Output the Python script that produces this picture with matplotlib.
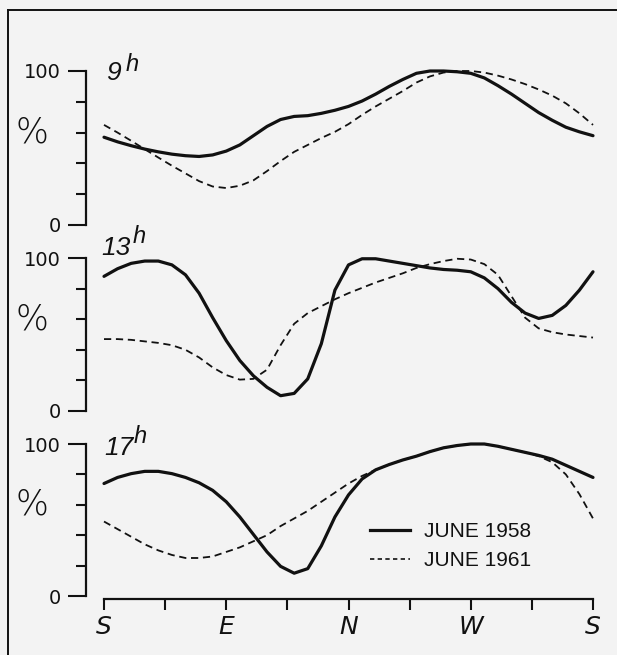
import matplotlib
matplotlib.use("Agg")
import matplotlib.pyplot as plt
from matplotlib.lines import Line2D

# ---- data (azimuth in degrees, S=0, E=90, N=180, W=270, S=360) ----
azimuth = list(range(0, 361, 10))

h9_1958 = [57, 54, 51.5, 49.3, 47.5, 46, 45, 44.5, 45.5, 48, 52, 58, 64, 68.5, 70.5, 71,
           72.5, 74.5, 77, 80.5, 85, 90, 94.5, 98.5, 100, 100, 99.5, 98.5, 95.5, 90.5,
           85, 79, 73, 68, 63.5, 60.5, 58]
h9_1961 = [65, 60, 54.7, 49.2, 43.8, 38.5, 33.5, 28.5, 25, 24, 25.5, 29, 35, 41.5, 47.5,
           52, 56.5, 60.5, 65.5, 71.5, 77, 82, 87, 92.5, 96.5, 99, 100, 100, 99, 97, 94.5,
           91.5, 88, 84, 79, 72.5, 65]

h13_1958 = [88, 93, 96.5, 98, 98, 95.5, 89, 77, 61, 46, 33, 23, 15.5, 10, 11.5, 21, 44,
            79, 95.5, 99.5, 99.5, 98, 96.5, 95, 93.5, 92.5, 92, 91, 87, 80, 71, 64, 60.5,
            62.5, 69, 79, 91]
h13_1961 = [47, 47, 46.5, 45.5, 44.5, 43, 40, 35, 28.5, 23.5, 20.5, 21, 27, 43, 57, 64,
            68.5, 73, 77, 80.5, 84, 87, 90, 93.5, 96, 98, 99.5, 99, 96, 89, 75, 61, 54,
            51.5, 50, 49, 48]

h17_1958 = [74, 78, 80.5, 82, 82, 80.5, 78, 74.5, 69.5, 62, 52, 40.5, 29, 19.5, 15, 18,
            33, 52, 66.5, 77, 83, 86.5, 89.5, 92, 95, 97.5, 99, 100, 100, 98.5, 96.5,
            94.5, 92.5, 90, 86, 82, 78]
h17_1961 = [49, 44, 39, 34, 30, 27, 25, 25, 26, 29, 32, 36, 40, 46, 51, 56, 62, 68, 74,
            79, 83, 86.5, 89.5, 92, 95, 97.5, 99, 100, 100, 98.5, 96.5, 94.5, 92, 88,
            80, 67, 51]

hours = ["9", "13", "17"]
series_1958 = [h9_1958, h13_1958, h17_1958]
series_1961 = [h9_1961, h13_1961, h17_1961]
xticks = [0, 45, 90, 135, 180, 225, 270, 315, 360]
xticklabels = ["S", "", "E", "", "N", "", "W", "", "S"]
legend_labels = ["JUNE 1958", "JUNE 1961"]

# ---- figure ----
W, H = 617, 655
fig = plt.figure(figsize=(W / 100, H / 100), dpi=100)
bg = "#f3f3f3"
fig.patch.set_facecolor(bg)
ink = "#111111"
plt.rcParams["font.family"] = ["Liberation Sans", "DejaVu Sans"]


def fx(x):
    return x / W


def fy(y):
    return 1 - y / H


# frame (cut off on right/bottom in the reference)
fig.add_artist(Line2D([fx(8), fx(617)], [fy(10), fy(10)], color=ink, lw=1.4))
fig.add_artist(Line2D([fx(8), fx(8)], [fy(10), fy(655)], color=ink, lw=1.4))

# panel geometry (pixel rows of 0 and the height to 100)
panels = [(225, 154), (411, 153), (596, 152)]
for i, (y0, hpx) in enumerate(panels):
    ax = fig.add_axes([fx(104), fy(y0), 489 / W, hpx / H])
    ax.set_facecolor("none")
    ax.set_xlim(0, 360)
    ax.set_ylim(0, 100)
    for s in ["top", "right"]:
        ax.spines[s].set_visible(False)
    ax.spines["left"].set_position(("outward", 13))
    ax.spines["left"].set_linewidth(1.6)
    ax.spines["left"].set_color(ink)
    ax.set_yticks([0, 100])
    ax.set_yticklabels(["0", "100"], family=["DejaVu Sans"])
    ax.set_yticks([20, 40, 60, 80], minor=True)
    ax.tick_params(axis="y", which="major", length=13, width=1.5, direction="out",
                   pad=5, labelsize=14, colors=ink)
    ax.tick_params(axis="y", which="minor", length=7, width=1.5, direction="out",
                   colors=ink)
    if i < 2:
        ax.spines["bottom"].set_visible(False)
        ax.set_xticks([])
    else:
        ax.spines["bottom"].set_position(("outward", 2))
        ax.spines["bottom"].set_linewidth(1.6)
        ax.spines["bottom"].set_color(ink)
        ax.set_xticks(xticks)
        ax.set_xticklabels(xticklabels, fontsize=18, style="italic",
                           family=["DejaVu Sans"])
        ax.tick_params(axis="x", length=8, width=1.5, direction="out", pad=4,
                       colors=ink)

    ax.plot(azimuth, series_1958[i], color=ink, lw=2.3, solid_capstyle="round",
            solid_joinstyle="round", clip_on=False)
    ax.plot(azimuth, series_1961[i], color=ink, lw=1.3, dashes=(4, 2.6),
            dash_joinstyle="round", clip_on=False)

    # "%" label
    ax.text(-0.148, 0.6, "%", transform=ax.transAxes, fontsize=25,
            ha="center", va="center", color=ink, family=["DejaVu Sans"],
            fontweight="light")

# hour labels with superscript h
hour_pos = [(106, 80, 126, 71), (101, 255, 133, 243), (104, 455, 134, 443)]
for (xn, yn, xh, yh), hr in zip(hour_pos, hours):
    fig.text(fx(xn), fy(yn), hr, fontsize=19, style="italic", color=ink,
             ha="left", va="baseline")
    fig.text(fx(xh), fy(yh), "h", fontsize=17, style="italic", color=ink,
             ha="left", va="baseline")

# legend
handles = [Line2D([], [], color=ink, lw=2.3),
           Line2D([], [], color=ink, lw=1.2, dashes=(2.6, 2.0))]
leg = fig.legend(handles, legend_labels, loc="upper left",
                 bbox_to_anchor=(fx(370), fy(522)), frameon=False,
                 fontsize=15, handlelength=1.9, handletextpad=0.7,
                 labelspacing=0.5, borderpad=0, borderaxespad=0)
for t in leg.get_texts():
    t.set_color(ink)

fig.savefig("out.png", dpi=100, facecolor=bg)
